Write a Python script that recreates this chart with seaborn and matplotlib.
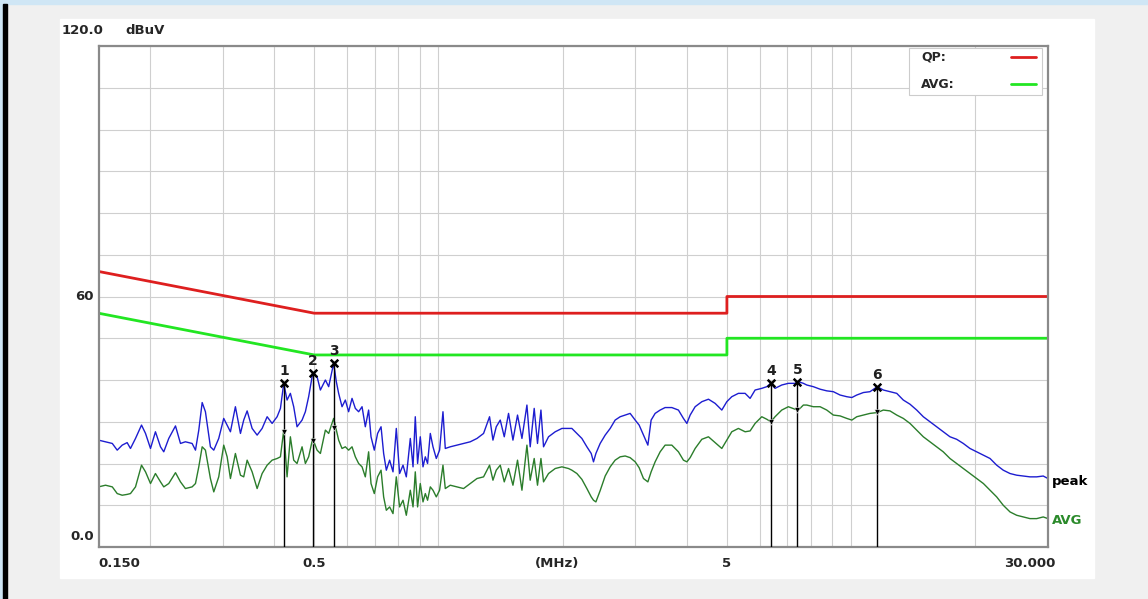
import matplotlib
matplotlib.use("Agg")
import matplotlib.pyplot as plt
from matplotlib.patches import Rectangle
from matplotlib.lines import Line2D
from matplotlib.ticker import NullLocator
import pandas as pd
import seaborn as sns

# sweep (MHz / dBuV)
freq_mhz = [0.150, 0.156, 0.162, 0.1665, 0.1712, 0.176, 0.1793, 0.1844, 0.1907, 0.195,
            0.2005, 0.2061, 0.212, 0.2159, 0.222, 0.2305, 0.237, 0.2436, 0.2529, 0.2577,
            0.2625, 0.2675, 0.2724, 0.2801, 0.2854, 0.2934, 0.3017, 0.3075, 0.3132, 0.322,
            0.3312, 0.3373, 0.3438, 0.3535, 0.3635, 0.3738, 0.3844, 0.3952, 0.4064, 0.414,
            0.4217, 0.4296, 0.4376, 0.4458, 0.4542, 0.4671, 0.4758, 0.4846, 0.4956, 0.5079,
            0.5174, 0.532, 0.5419,
            0.5571, 0.5655, 0.5729, 0.5838, 0.5947, 0.6057, 0.6173, 0.6288, 0.6405, 0.6528,
            0.6648, 0.6772, 0.6863, 0.699, 0.712, 0.7258, 0.7364, 0.7475, 0.7614, 0.7759,
            0.7903, 0.805, 0.8205, 0.8357, 0.8545, 0.8676, 0.8786, 0.89, 0.9034, 0.9173,
            0.9292, 0.941, 0.9554, 0.9698, 0.9879, 1.0062, 1.0254, 1.0387, 1.068, 1.1086,
            1.1502, 1.194, 1.2396, 1.2861, 1.3298, 1.3552, 1.3804, 1.4116, 1.4435, 1.4784,
            1.5152, 1.5544, 1.5932, 1.6381, 1.6683, 1.706, 1.7377, 1.7713, 1.7972, 1.848,
            1.9183, 1.9911, 2.0658,
            2.105, 2.165, 2.226, 2.289, 2.345, 2.375, 2.407, 2.465, 2.535, 2.607,
            2.680, 2.756, 2.834, 2.914, 2.997, 3.064, 3.139, 3.217, 3.276, 3.350,
            3.445, 3.542, 3.677, 3.815, 3.923, 3.999, 4.073, 4.188, 4.347, 4.511,
            4.682, 4.860, 4.997, 5.138, 5.331, 5.535, 5.691, 5.852, 6.074, 6.246,
            6.387, 6.541, 6.790, 7.045, 7.313, 7.449, 7.661,
            7.808, 8.100, 8.409, 8.729, 9.056, 9.402, 9.760, 10.04, 10.32, 10.71,
            11.11, 11.57, 11.97, 12.42, 12.90, 13.38, 13.89, 14.42, 14.96, 15.53,
            16.12, 16.72, 17.36, 18.02, 18.70, 19.41, 20.15, 20.92, 21.71, 22.53,
            23.37, 24.27, 25.19, 26.13, 27.13, 28.16, 29.21, 30.0]

peak_dbuv = [25.6, 25.2, 24.8, 23.2, 24.4, 25.0, 23.6, 26.0, 29.2, 27.2,
             23.6, 27.6, 24.0, 22.8, 26.0, 29.0, 24.8, 25.2, 24.8, 23.2,
             28.0, 34.6, 32.4, 24.0, 23.2, 26.0, 30.8, 29.2, 27.6, 33.6,
             27.2, 30.4, 32.6, 28.4, 26.8, 28.4, 31.2, 29.6, 31.2, 33.2,
             39.2, 35.2, 36.8, 33.6, 28.8, 30.4, 32.4, 36.0, 41.6, 40.8,
             37.6, 40.0, 38.4,
             44.0, 39.6, 36.8, 33.6, 35.2, 32.4, 35.6, 33.2, 32.4, 33.6,
             28.8, 32.8, 26.4, 23.2, 27.2, 28.8, 22.4, 18.4, 20.8, 18.0,
             28.4, 17.6, 19.6, 16.8, 26.0, 19.2, 31.2, 20.0, 26.4, 19.2,
             21.6, 20.0, 27.2, 24.0, 21.2, 23.2, 32.4, 23.6, 24.0, 24.4,
             24.8, 25.2, 26.0, 27.2, 31.2, 25.6, 28.8, 30.4, 26.4, 32.0,
             25.6, 31.6, 26.0, 34.0, 24.0, 33.2, 24.8, 32.8, 24.0, 26.4,
             27.6, 28.4, 28.4,
             28.4, 27.2, 26.0, 24.0, 22.4, 20.4, 22.4, 24.8, 26.8, 28.4,
             30.4, 31.2, 31.6, 32.0, 30.4, 29.2, 26.8, 24.4, 30.4, 32.0,
             32.8, 33.4, 33.4, 32.8, 30.8, 29.6, 31.6, 33.6, 34.8, 35.4,
             34.4, 32.8, 34.8, 36.0, 36.8, 36.8, 35.6, 37.6, 38.0, 38.4,
             39.2, 38.0, 38.8, 39.2, 39.2, 39.6, 39.2,
             38.8, 38.4, 37.8, 37.4, 37.2, 36.4, 36.0, 35.8, 36.4, 37.0,
             37.2, 38.4, 37.6, 37.2, 36.8, 35.2, 34.2, 32.8, 31.2, 30.0,
             28.8, 27.6, 26.4, 25.8, 24.8, 23.6, 22.8, 22.0, 21.2, 19.6,
             18.4, 17.6, 17.2, 17.0, 16.8, 16.8, 17.0, 16.4]

avg_dbuv = [14.4, 14.8, 14.4, 12.8, 12.4, 12.6, 12.8, 14.4, 19.6, 18.0,
            15.2, 17.6, 15.6, 14.4, 15.2, 17.8, 15.6, 14.0, 14.4, 15.2,
            19.2, 24.0, 23.2, 16.4, 13.2, 16.8, 24.4, 21.6, 16.4, 22.4,
            17.2, 16.8, 20.8, 18.0, 14.0, 17.6, 19.6, 20.8, 21.2, 21.6,
            28.0, 16.8, 26.4, 20.8, 20.0, 24.0, 20.0, 21.6, 26.0, 23.2,
            22.4, 28.0, 27.2,
            30.8, 28.0, 25.6, 23.6, 24.0, 23.2, 24.0, 21.6, 20.0, 19.2,
            16.8, 22.8, 15.2, 12.8, 16.8, 18.4, 12.0, 8.8, 9.6, 8.0,
            16.8, 9.6, 11.2, 7.6, 13.6, 9.6, 18.0, 9.6, 15.2, 10.8,
            12.8, 11.2, 14.4, 13.6, 12.0, 13.6, 19.6, 14.0, 14.8, 14.4,
            14.0, 15.2, 16.4, 16.8, 19.6, 16.0, 18.4, 19.6, 15.6, 18.8,
            14.8, 20.8, 13.6, 24.4, 16.0, 21.2, 14.8, 21.2, 15.6, 17.6,
            18.8, 19.2, 18.8,
            18.4, 17.6, 16.2, 14.0, 12.0, 11.2, 10.8, 13.5, 17.0, 19.2,
            20.8, 21.6, 21.8, 21.4, 20.4, 19.0, 16.4, 15.6, 18.0, 20.4,
            22.8, 24.4, 24.4, 22.8, 20.8, 20.4, 21.4, 23.6, 25.8, 26.4,
            25.0, 23.6, 25.6, 27.6, 28.4, 27.6, 27.8, 29.6, 31.2, 30.6,
            30.0, 31.2, 32.8, 33.6, 33.0, 32.8, 34.0,
            34.0, 33.6, 33.6, 32.8, 31.6, 31.4, 30.8, 30.4, 31.2, 31.6,
            32.0, 32.2, 32.8, 32.6, 31.6, 30.8, 29.6, 28.0, 26.4, 25.2,
            24.0, 22.8, 21.2, 20.0, 18.8, 17.6, 16.4, 15.2, 13.6, 12.0,
            10.0, 8.4, 7.6, 7.2, 6.8, 6.8, 7.2, 6.8]

# limit lines
limit_freq = [0.15, 0.5, 5, 5, 30]
qp_limit = [66, 56, 56, 60, 60]
avg_limit = [56, 46, 46, 50, 50]

# markers
marker_freq = [0.422, 0.496, 0.557, 6.39, 7.41, 11.53]
marker_peak = [39.2, 41.6, 44.0, 39.2, 39.6, 38.4]
marker_avg = [27.5, 25.5, 28.5, 30.0, 32.8, 32.4]

grid_freq = [0.2, 0.3, 0.4, 0.5, 0.6, 0.7, 0.8, 0.9, 1, 2, 3, 4, 5, 6, 7, 8, 9, 10, 20]

sns.set_style("white")
plt.rcParams['font.family'] = ['DejaVu Sans']

W, H = 1148, 599
def fx(px):
    return px / W
def fy(py):
    return 1 - py / H

fig = plt.figure(figsize=(W / 100, H / 100), dpi=100, facecolor='#f0f0f0')
# window frame bits, kept behind the axes
fig.patches.append(Rectangle((0, fy(4)), 1, 4 / H, transform=fig.transFigure, color='#cfe6f5', zorder=-10))
fig.patches.append(Rectangle((0, 0), fx(3), 1, transform=fig.transFigure, color='#cfe6f5', zorder=-10))
fig.patches.append(Rectangle((fx(3), 0), fx(4), fy(4), transform=fig.transFigure, color='black', zorder=-9))
fig.patches.append(Rectangle((fx(60), fy(578)), fx(1094 - 60), (578 - 19) / H,
                             transform=fig.transFigure, color='white', zorder=-10))

ax = fig.add_axes([fx(98.5), fy(547), fx(1048 - 98.5), (547 - 46) / H])
ax.set_zorder(1)
ax.set_facecolor('white')
ax.set_xscale('log')
ax.set_xlim(0.15, 30)
ax.set_ylim(0, 120)
ax.set_xticks(grid_freq)
ax.xaxis.set_minor_locator(NullLocator())
ax.set_yticks(range(0, 121, 10))
ax.tick_params(length=0, labelbottom=False, labelleft=False)
ax.grid(True, color='#cfcfcf', lw=0.8)
for s in ax.spines.values():
    s.set_color('#8a8a8a')
    s.set_linewidth(1.6)

sns.lineplot(x=limit_freq, y=qp_limit, ax=ax, color='#de1f1f', lw=2, sort=False, estimator=None)
sns.lineplot(x=limit_freq, y=avg_limit, ax=ax, color='#22e622', lw=2, sort=False, estimator=None)

df = pd.DataFrame({'freq': freq_mhz, 'peak': peak_dbuv, 'avg': avg_dbuv})
sns.lineplot(data=df, x='freq', y='avg', ax=ax, color='#2b7d2b', lw=1.0, estimator=None)
sns.lineplot(data=df, x='freq', y='peak', ax=ax, color='#1d1dd0', lw=1.0, estimator=None)
ax.set_xlabel('')
ax.set_ylabel('')

ax.vlines(marker_freq, 0, marker_peak, color='black', lw=1, zorder=4)
sns.scatterplot(x=marker_freq, y=marker_peak, marker='x', color='black', s=30, linewidth=1.8, ax=ax, zorder=5)
sns.scatterplot(x=marker_freq, y=marker_avg, marker='v', color='black', s=16, ax=ax, zorder=5)
for i, (f, p) in enumerate(zip(marker_freq, marker_peak)):
    ax.annotate(str(i + 1), (f, p), xytext=(0, 12), textcoords='offset pixels',
                ha='center', va='center', fontsize=10, fontweight='bold', color='#202020')

# legend box
ax.add_patch(Rectangle((0.8536, 0.902), 0.1401, 0.094, transform=ax.transAxes,
                       facecolor='white', edgecolor='#cccccc', lw=0.8, zorder=6))
ax.text(0.8662, 0.978, 'QP:', transform=ax.transAxes, fontsize=9, fontweight='bold', va='center', zorder=7)
ax.text(0.8662, 0.924, 'AVG:', transform=ax.transAxes, fontsize=9, fontweight='bold', va='center', zorder=7)
ax.add_line(Line2D([0.961, 0.9874], [0.978, 0.978], transform=ax.transAxes, color='#de1f1f', lw=2, zorder=7))
ax.add_line(Line2D([0.961, 0.9874], [0.924, 0.924], transform=ax.transAxes, color='#22e622', lw=2, zorder=7))

lab = dict(fontsize=9.5, fontweight='bold', va='center')
fig.text(fx(62), fy(30), '120.0', ha='left', **lab)
fig.text(fx(125), fy(30), 'dBuV', ha='left', **lab)
fig.text(fx(94), fy(296), '60', ha='right', **lab)
fig.text(fx(94), fy(537), '0.0', ha='right', **lab)

xt = ax.get_xaxis_transform()
yb = -0.032
ax.text(0.15, yb, '0.150', transform=xt, ha='left', **lab)
ax.text(0.5, yb, '0.5', transform=xt, ha='center', **lab)
ax.text(0.483, yb, '(MHz)', transform=ax.transAxes, ha='center', **lab)
ax.text(5, yb, '5', transform=xt, ha='center', **lab)
ax.text(0.981, yb, '30.000', transform=ax.transAxes, ha='center', **lab)

fig.text(fx(1052), fy(482), 'peak', ha='left', color='black', **lab)
fig.text(fx(1052), fy(521), 'AVG', ha='left', color='#2b8a2b', **lab)

fig.savefig('out.png', dpi=100, facecolor=fig.get_facecolor())
